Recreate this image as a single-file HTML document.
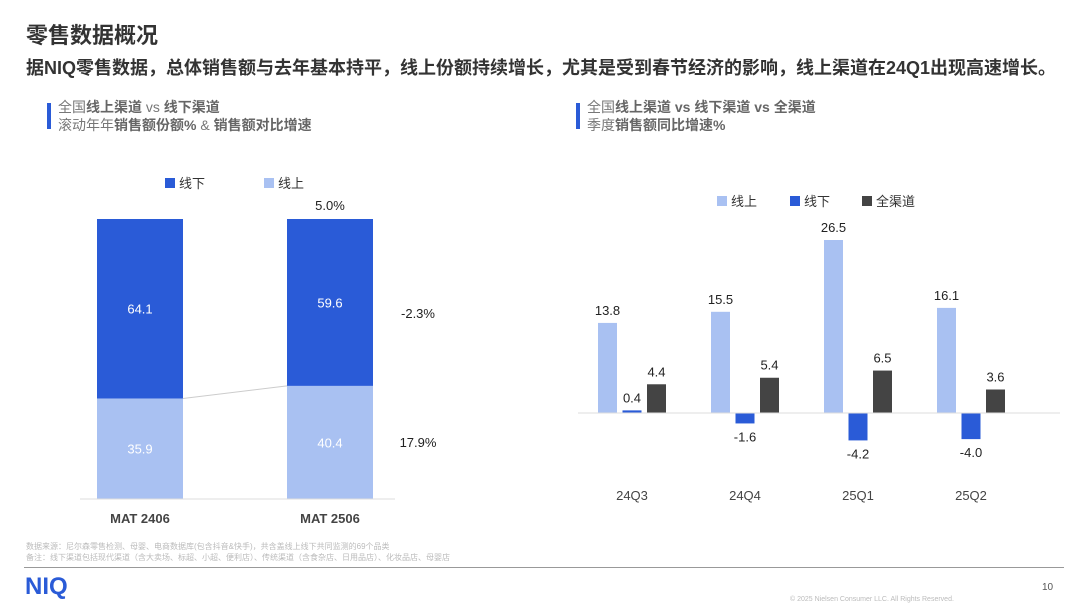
<!DOCTYPE html>
<html><head><meta charset="utf-8"><style>
body{margin:0;width:1080px;height:608px;background:#fff;font-family:"Liberation Sans","Noto Sans CJK SC",sans-serif;position:relative;overflow:hidden;color:#222}
.a{position:absolute;white-space:nowrap}
</style></head><body>
<div class="a" style="left:26px;top:18px;font-size:22px;font-weight:bold;color:#333">零售数据概况</div>
<div class="a" style="left:26px;top:54px;font-size:18px;font-weight:bold;color:#333">据NIQ零售数据，总体销售额与去年基本持平，线上份额持续增长，尤其是受到春节经济的影响，线上渠道在24Q1出现高速增长。</div>
<div class="a" style="left:47px;top:103px;width:4px;height:26px;background:#2a5bd7"></div>
<div class="a" style="left:58px;top:98px;font-size:14px;line-height:18px;color:#777">全国<b style="color:#666">线上渠道</b> vs <b style="color:#666">线下渠道</b><br>滚动年年<b style="color:#666">销售额份额%</b> &amp; <b style="color:#666">销售额对比增速</b></div>
<div class="a" style="left:576px;top:103px;width:4px;height:26px;background:#2a5bd7"></div>
<div class="a" style="left:587px;top:98px;font-size:14px;line-height:18px;color:#777">全国<b style="color:#666">线上渠道 vs 线下渠道 vs 全渠道</b><br>季度<b style="color:#666">销售额同比增速%</b></div>
<svg id="c" width="1080" height="608" style="position:absolute;left:0;top:0" font-family="Liberation Sans, Noto Sans CJK SC, sans-serif"></svg>
<div class="a" style="left:26px;top:541px;font-size:8px;line-height:11px;color:#bbb">数据来源：尼尔森零售检测、母婴、电商数据库(包含抖音&amp;快手)，共含盖线上线下共同监测的69个品类<br>备注：线下渠道包括现代渠道（含大卖场、标超、小超、便利店）、传统渠道（含食杂店、日用品店）、化妆品店、母婴店</div>
<div class="a" style="left:24px;top:567px;width:1040px;height:1px;background:#999"></div>
<div class="a" style="left:25px;top:573px;font-size:24px;font-weight:bold;color:#2a5bd7">NIQ</div>
<div class="a" style="left:1042px;top:582px;font-size:10px;color:#555">10</div>
<div class="a" style="left:790px;top:596px;font-size:7px;color:#bbb">© 2025 Nielsen Consumer LLC. All Rights Reserved.</div>
<script>
const periods=["MAT 2406","MAT 2506"];
const offlineShare=[64.1,59.6];
const onlineShare=[35.9,40.4];
const growthLabels=["5.0%","-2.3%","17.9%"];
const quarters=["24Q3","24Q4","25Q1","25Q2"];
const onlineGrowth=[13.8,15.5,26.5,16.1];
const offlineGrowth=[0.4,-1.6,-4.2,-4.0];
const totalGrowth=[4.4,5.4,6.5,3.6];
const svg=document.getElementById('c');const NS='http://www.w3.org/2000/svg';
function mk(t,a,txt){const e=document.createElementNS(NS,t);for(const k in a)e.setAttribute(k,a[k]);if(txt!=null)e.textContent=txt;svg.appendChild(e);return e;}
const lTop=219,lBot=499,lx=[97,287],lw=86;
const ly=v=>lBot-(v/100)*(lBot-lTop);
let e;
e=mk('rect',{x:165,y:178,width:10,height:10,fill:'#2a5bd7'});


e=mk('text',{x:179,y:188,'font-size':13,fill:'#333'},'线下');


e=mk('rect',{x:264,y:178,width:10,height:10,fill:'#a9c1f2'});


e=mk('text',{x:278,y:188,'font-size':13,fill:'#333'},'线上');


periods.forEach((p,i)=>{
 const x=lx[i],b=ly(onlineShare[i]),t=ly(onlineShare[i]+offlineShare[i]);
 e=mk('rect',{x:x,y:b,width:lw,height:lBot-b,fill:'#a9c1f2'});
 
 
 e=mk('rect',{x:x,y:t,width:lw,height:b-t,fill:'#2a5bd7'});
 
 
 e=mk('text',{x:x+lw/2,y:(b+lBot)/2+5,'font-size':13,fill:'#fff','text-anchor':'middle'},onlineShare[i].toFixed(1));
 
 
 e=mk('text',{x:x+lw/2,y:(t+b)/2+5,'font-size':13,fill:'#fff','text-anchor':'middle'},offlineShare[i].toFixed(1));
 
 
 e=mk('text',{x:x+lw/2,y:523,'font-size':13,fill:'#444','font-weight':'bold','text-anchor':'middle'},p);
 
 
});
e=mk('line',{x1:lx[0]+lw,y1:ly(onlineShare[0]),x2:lx[1],y2:ly(onlineShare[1]),stroke:'#ccc','stroke-width':1});


e=mk('line',{x1:80,y1:lBot,x2:395,y2:lBot,stroke:'#ddd'});


[[330,210],[418,318],[418,447]].forEach((p,i)=>{
 e=mk('text',{x:p[0],y:p[1],'font-size':13,fill:'#222','text-anchor':'middle'},growthLabels[i]);
 
 
});
const base=413,sc=173/26.5,gx=[598,711,824,937],bw=19;
const ry=v=>base-v*sc;
const leg=[['线上','#a9c1f2',717],['线下','#2a5bd7',790],['全渠道','#444',862]];
leg.forEach((l,i)=>{
 e=mk('rect',{x:l[2],y:196,width:10,height:10,fill:l[1]});
 
 
 e=mk('text',{x:l[2]+14,y:206,'font-size':13,fill:'#333'},l[0]);
 
 
});
const series=[onlineGrowth,offlineGrowth,totalGrowth],cols=['#a9c1f2','#2a5bd7','#444'];
quarters.forEach((q,i)=>{
 series.forEach((s,j)=>{
  const v=s[i],x=gx[i]+j*24.5,y0=Math.min(ry(v),base),h=Math.abs(ry(v)-base);
  e=mk('rect',{x:x,y:y0,width:bw,height:h,fill:cols[j]});
  
  
  const ty=v>=0?ry(v)-8:ry(v)+18;
  e=mk('text',{x:x+bw/2,y:ty,'font-size':13,fill:'#222','text-anchor':'middle'},v.toFixed(1));
  
  
 });
 e=mk('text',{x:gx[i]+34,y:500,'font-size':13,fill:'#444','text-anchor':'middle'},q);
 
 
});
e=mk('line',{x1:578,y1:base,x2:1060,y2:base,stroke:'#ddd'});


</script>
</body></html>
